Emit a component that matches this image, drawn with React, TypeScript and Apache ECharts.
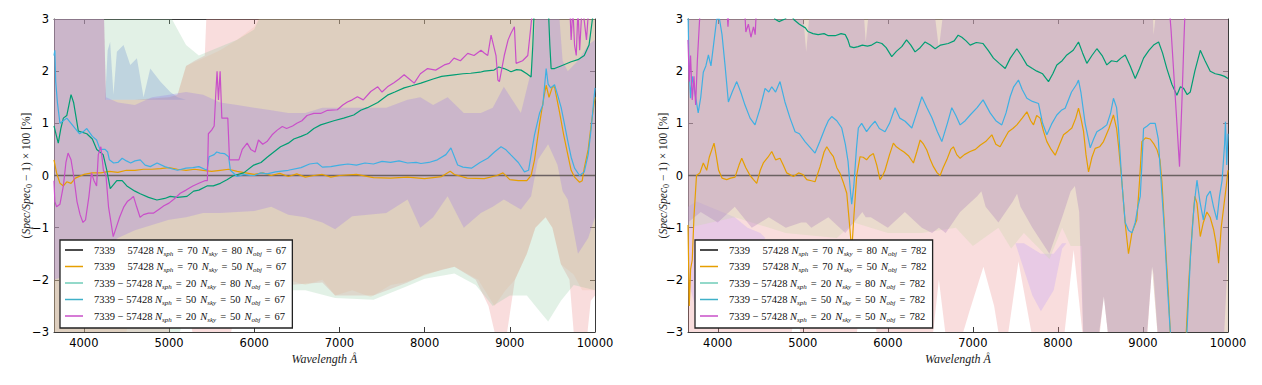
import React, { useEffect, useRef } from 'react';
import * as echarts from 'echarts';

// ---------- axes ----------
const X_MIN = 3650;
const X_MAX = 10000;
const X_TICKS = [4000, 5000, 6000, 7000, 8000, 9000, 10000];
const Y_MIN = -3;
const Y_MAX = 3;

// ---------- legend text ----------
const PAIR_LABELS = ['7339\u2003\u200957428', '7339\u2003\u200957428', '7339 \u2212 57428', '7339 \u2212 57428', '7339 \u2212 57428'];
const N_SPH = [70, 70, 20, 50, 20];
const N_SKY = [80, 50, 80, 50, 50];
const N_OBJ = [67, 782];
const LINE_COLORS = ['#111111', '#e69f00', '#009e73', '#3fb0e3', '#c94fc9'];
const LEGEND_COLORS = ['#111111', '#e69f00', '#6fcdb8', '#3fb0c8', '#c94fc9'];

// ---------- left panel (N_obj = 67) lines ----------
const ZERO_LINE = [[3650, 0], [10000, 0]];

const L_ORANGE = [[3650, 0.3], [3680, 0.05], [3720, -0.15], [3760, -0.2], [3800, -0.12], [3850, -0.15], [3900, -0.05], [4000, 0.02], [4100, 0.05], [4200, 0.05], [4300, 0.08], [4400, 0.06], [4500, 0.1], [4600, 0.1], [4700, 0.12], [4800, 0.12], [4900, 0.13], [5000, 0.15], [5100, 0.12], [5200, 0.1], [5300, 0.12], [5400, 0.1], [5500, 0.08], [5600, 0.1], [5700, 0.12], [5800, 0.08], [5900, 0.05], [6000, 0.02], [6100, 0.05], [6200, 0.0], [6300, 0.04], [6400, -0.02], [6500, 0.03], [6600, -0.03], [6700, 0.0], [6800, 0.02], [6900, -0.03], [7000, 0.0], [7200, 0.02], [7400, -0.04], [7600, -0.05], [7800, -0.03], [8000, -0.06], [8200, -0.02], [8300, 0.08], [8350, 0.02], [8500, -0.05], [8700, -0.06], [8850, 0.0], [8920, 0.05], [9000, -0.08], [9100, -0.1], [9200, -0.1], [9250, 0.0], [9290, 0.3], [9350, 1.0], [9400, 1.5], [9427, 1.73], [9460, 1.5], [9500, 1.7], [9525, 1.7], [9583, 1.22], [9630, 0.8], [9682, 0.39], [9720, 0.1], [9760, -0.03], [9819, -0.13], [9850, -0.1], [9874, 0.14], [9920, 0.5], [9955, 0.97], [10000, 1.5]];

const L_GREEN = [[3650, 0.95], [3680, 0.75], [3700, 0.62], [3730, 0.9], [3760, 1.1], [3800, 1.15], [3850, 1.55], [3880, 1.4], [3936, 0.85], [4035, 0.8], [4100, 0.7], [4152, 0.5], [4227, 0.4], [4270, 0.1], [4310, -0.25], [4387, -0.1], [4450, -0.1], [4505, -0.2], [4600, -0.3], [4662, -0.35], [4760, -0.42], [4858, -0.47], [4950, -0.44], [5015, -0.4], [5100, -0.42], [5211, -0.4], [5289, -0.3], [5350, -0.28], [5446, -0.2], [5520, -0.2], [5603, -0.15], [5680, -0.08], [5760, 0.0], [5877, 0.05], [5995, 0.2], [6080, 0.25], [6152, 0.35], [6230, 0.45], [6309, 0.55], [6400, 0.62], [6465, 0.7], [6550, 0.75], [6623, 0.8], [6700, 0.9], [6780, 0.97], [6935, 1.05], [7050, 1.1], [7168, 1.16], [7250, 1.25], [7329, 1.3], [7450, 1.4], [7564, 1.54], [7650, 1.6], [7760, 1.68], [7850, 1.72], [7956, 1.77], [8100, 1.85], [8200, 1.9], [8345, 1.93], [8450, 1.95], [8541, 1.96], [8650, 1.98], [8700, 2.0], [8815, 2.02], [8870, 2.08], [8933, 2.05], [9015, 1.99], [9080, 2.03], [9133, 2.02], [9200, 1.95], [9250, 1.89], [9270, 2.5], [9290, 3.3], [9450, 3.3], [9470, 2.5], [9485, 2.05], [9525, 2.05], [9600, 2.1], [9720, 2.18], [9800, 2.22], [9874, 2.3], [9930, 2.5], [9970, 3.0], [10000, 3.3]];

const L_BLUE = [[3650, 2.3], [3660, 2.4], [3670, 1.8], [3690, 1.4], [3720, 1.0], [3760, 1.05], [3800, 1.1], [3850, 1.0], [3900, 0.9], [3950, 0.8], [4000, 0.85], [4035, 0.9], [4100, 0.75], [4150, 0.68], [4190, 0.5], [4250, 0.5], [4280, 0.45], [4300, 0.3], [4350, 0.24], [4400, 0.25], [4450, 0.33], [4500, 0.28], [4550, 0.24], [4600, 0.28], [4662, 0.3], [4720, 0.2], [4780, 0.17], [4860, 0.24], [4950, 0.17], [5050, 0.12], [5100, 0.1], [5200, 0.14], [5280, 0.15], [5350, 0.17], [5446, 0.1], [5470, 0.36], [5530, 0.4], [5560, 0.45], [5600, 0.43], [5650, 0.42], [5700, 0.36], [5720, 0.1], [5800, -0.02], [5880, 0.02], [5950, 0.0], [6000, 0.0], [6080, 0.05], [6150, 0.03], [6250, 0.07], [6400, 0.1], [6550, 0.15], [6650, 0.22], [6740, 0.24], [6800, 0.16], [6900, 0.17], [7000, 0.2], [7100, 0.22], [7200, 0.2], [7300, 0.24], [7400, 0.22], [7500, 0.27], [7600, 0.25], [7700, 0.28], [7800, 0.24], [7900, 0.25], [7956, 0.23], [8050, 0.25], [8150, 0.3], [8250, 0.4], [8309, 0.53], [8388, 0.2], [8450, 0.16], [8550, 0.14], [8650, 0.25], [8741, 0.33], [8820, 0.45], [8897, 0.55], [8950, 0.5], [9015, 0.39], [9100, 0.25], [9172, 0.07], [9220, 0.1], [9290, 0.78], [9350, 1.2], [9388, 1.35], [9427, 2.05], [9450, 1.75], [9480, 1.68], [9525, 1.74], [9560, 1.55], [9603, 1.3], [9640, 1.0], [9682, 0.65], [9720, 0.35], [9760, 0.14], [9819, 0.0], [9874, 0.07], [9920, 0.4], [9955, 0.9], [10000, 1.68]];

const L_MAGENTA = [[3650, -0.1], [3660, -0.5], [3680, -0.6], [3720, -0.55], [3760, -0.2], [3790, 0.25], [3815, 0.43], [3850, 0.3], [3880, 0.0], [3920, -0.5], [3956, -0.75], [3990, -0.9], [4020, -0.85], [4060, -0.4], [4090, 0.05], [4120, -0.1], [4150, -0.2], [4170, 0.4], [4200, 0.55], [4230, 0.1], [4260, 0.0], [4290, -0.6], [4345, -1.17], [4380, -1.0], [4420, -0.8], [4470, -0.6], [4510, -0.5], [4550, -0.45], [4583, -0.4], [4620, -0.6], [4660, -0.8], [4700, -0.75], [4760, -0.72], [4820, -0.72], [4880, -0.65], [4940, -0.58], [5000, -0.53], [5060, -0.45], [5132, -0.34], [5200, -0.28], [5280, -0.2], [5350, -0.15], [5420, -0.1], [5450, -0.1], [5462, 0.8], [5500, 0.87], [5530, 0.95], [5550, 1.6], [5564, 2.0], [5580, 1.45], [5600, 2.0], [5620, 1.1], [5650, 1.1], [5690, 1.1], [5710, 0.3], [5760, 0.3], [5820, 0.3], [5860, 0.5], [5917, 0.62], [5960, 0.5], [6010, 0.45], [6050, 0.68], [6100, 0.6], [6150, 0.65], [6210, 0.78], [6270, 0.87], [6330, 0.94], [6380, 0.9], [6450, 0.95], [6500, 1.0], [6560, 1.05], [6620, 1.15], [6700, 1.19], [6780, 1.19], [6860, 1.25], [6976, 1.26], [7040, 1.35], [7094, 1.41], [7150, 1.45], [7211, 1.51], [7280, 1.45], [7368, 1.61], [7450, 1.7], [7500, 1.6], [7564, 1.7], [7640, 1.78], [7700, 1.85], [7760, 1.93], [7820, 1.85], [7878, 1.77], [7950, 1.95], [8035, 2.05], [8130, 2.02], [8231, 2.12], [8290, 2.15], [8345, 2.25], [8420, 2.2], [8506, 2.34], [8580, 2.3], [8662, 2.4], [8700, 2.35], [8741, 2.3], [8780, 2.69], [8838, 2.3], [8860, 1.83], [8878, 1.8], [8935, 2.3], [8980, 2.6], [9015, 2.73], [9054, 2.85], [9074, 2.15], [9150, 2.2], [9211, 2.3], [9250, 2.9], [9280, 3.4], [9700, 3.4], [9720, 2.6], [9740, 3.2], [9760, 2.5], [9780, 2.3], [9800, 3.2], [9820, 2.4], [9850, 3.3], [9900, 2.6], [9930, 3.3], [10000, 3.4]];

// left panel uncertainty bands: [wavelength, lower, upper]
const L_BAND_PINK = [[3650, -3.2, 3.5], [4230, -3.2, 3.5], [4260, -3.2, 1.45], [4600, -3.2, 1.45], [5000, -3.0, 1.5], [5100, -2.6, 1.55], [5200, -2.4, 2.1], [5300, -3.2, 2.2], [5420, -3.2, 2.3], [5450, -3.2, 3.5], [5700, -3.2, 3.5], [5800, -2.5, 3.5], [6000, -2.2, 3.5], [6400, -2.1, 3.5], [6800, -2.05, 3.5], [6950, -2.3, 3.5], [7400, -2.3, 3.5], [7800, -2.05, 3.5], [8000, -1.9, 3.5], [8350, -1.75, 3.5], [8600, -2.0, 3.5], [8750, -2.5, 3.5], [8850, -3.2, 3.5], [8950, -3.2, 3.5], [9060, -2.0, 3.5], [9200, -1.5, 3.5], [9300, -1.0, 3.5], [9420, -0.8, 3.5], [9500, -1.0, 3.5], [9600, -1.7, 3.5], [9700, -2.0, 3.5], [9760, -3.2, 3.5], [9900, -3.2, 3.5], [9950, -2.4, 3.5], [10000, -2.3, 3.5]];
const L_BAND_GREEN = [[3650, -3.2, 3.5], [4900, -3.2, 3.5], [5000, -3.2, 3.1], [5100, -3.1, 2.8], [5200, -2.7, 2.5], [5350, -2.5, 2.3], [5500, -2.4, 2.4], [5800, -2.25, 2.6], [6000, -2.3, 2.8], [6200, -2.2, 3.5], [6600, -2.2, 3.5], [6950, -2.35, 3.5], [7400, -2.38, 3.5], [7800, -2.12, 3.5], [8000, -1.98, 3.5], [8350, -1.88, 3.5], [8600, -2.1, 3.5], [8800, -2.5, 3.5], [9000, -2.3, 3.5], [9200, -2.3, 3.5], [9350, -2.6, 3.5], [9450, -2.8, 3.5], [9600, -2.4, 3.5], [9750, -2.1, 3.5], [10000, -2.2, 3.5]];
const L_BAND_BLUE = [[4250, 1.45, 1.45], [4280, 1.45, 2.4], [4309, 1.45, 2.56], [4348, 1.45, 1.55], [4388, 1.45, 2.37], [4466, 1.45, 2.5], [4545, 1.45, 2.12], [4623, 1.45, 2.25], [4701, 1.45, 1.5], [4780, 1.45, 2.05], [4898, 1.45, 1.8], [5015, 1.45, 1.6], [5100, 1.45, 1.5], [5200, 1.45, 1.45]];
const L_BAND_TAN = [[3650, -3.2, 3.5], [4230, -3.2, 3.5], [4260, -3.2, 1.45], [4500, -3.0, 1.45], [4600, -2.2, 1.45], [5000, -2.1, 1.5], [5100, -2.15, 1.55], [5200, -2.2, 2.1], [5400, -2.2, 2.25], [5600, -2.25, 2.4], [5800, -2.2, 2.6], [6000, -2.1, 2.85], [6200, -2.1, 3.5], [6400, -2.0, 3.5], [6600, -2.1, 3.5], [6800, -2.0, 3.5], [6950, -2.3, 3.5], [7150, -2.2, 3.5], [7370, -2.33, 3.5], [7600, -2.1, 3.5], [7760, -2.05, 3.5], [8040, -1.9, 3.5], [8200, -1.8, 3.5], [8350, -1.75, 3.5], [8630, -2.0, 3.5], [8820, -2.5, 3.5], [8950, -2.2, 3.5], [9060, -2.0, 3.5], [9200, -1.5, 3.5], [9300, -1.0, 3.5], [9420, -0.8, 3.5], [9500, -1.0, 3.5], [9600, -1.7, 3.5], [9750, -1.9, 3.5], [9850, -2.2, 3.5], [10000, -2.2, 3.5]];
const L_BAND_PURPLE = [[3650, -2.0, 3.5], [4000, -1.8, 3.5], [4230, -1.5, 3.5], [4260, -1.4, 1.5], [4400, -1.2, 1.4], [4600, -1.05, 1.35], [4800, -0.95, 1.5], [5000, -0.85, 1.55], [5200, -0.8, 1.6], [5400, -0.72, 1.55], [5600, -0.72, 1.4], [5800, -0.7, 1.35], [6000, -0.68, 1.3], [6200, -0.6, 1.25], [6400, -0.75, 1.2], [6600, -0.8, 1.2], [6800, -0.9, 1.3], [6950, -1.03, 1.3], [7150, -0.78, 1.3], [7550, -0.72, 1.3], [7800, -0.46, 1.45], [7950, -1.0, 1.5], [8100, -0.8, 1.35], [8270, -0.4, 1.5], [8460, -1.0, 1.2], [8660, -0.72, 1.2], [8800, -0.6, 1.3], [8930, -0.46, 1.7], [9130, -0.65, 1.2], [9250, -0.4, 2.0], [9330, 0.3, 3.5], [9450, 0.6, 3.5], [9560, 0.2, 3.5], [9620, -0.3, 2.2], [9680, -0.46, 2.0], [9800, -1.5, 2.2], [9920, -1.2, 2.5], [10000, -0.8, 2.6]];

// ---------- right panel (N_obj = 782) lines ----------
const R_ORANGE = [[3650, -0.95], [3665, -2.5], [3680, -1.8], [3700, -1.62], [3720, -0.8], [3750, 0.0], [3790, 0.05], [3830, 0.24], [3870, 0.1], [3900, 0.35], [3956, 0.62], [3980, 0.4], [4010, 0.1], [4050, -0.05], [4105, -0.08], [4150, -0.05], [4203, -0.03], [4250, 0.2], [4282, 0.33], [4330, 0.15], [4380, 0.0], [4420, -0.08], [4458, -0.15], [4500, 0.1], [4536, 0.24], [4590, 0.35], [4635, 0.46], [4680, 0.3], [4732, 0.33], [4770, 0.2], [4811, 0.05], [4889, -0.02], [4950, 0.05], [5000, 0.02], [5046, -0.08], [5100, -0.1], [5144, -0.12], [5203, 0.17], [5250, 0.45], [5282, 0.55], [5320, 0.45], [5360, 0.36], [5400, 0.15], [5438, 0.04], [5480, -0.15], [5517, -0.34], [5555, -1.04], [5575, -1.45], [5600, -0.8], [5634, 0.0], [5673, 0.36], [5710, 0.35], [5750, 0.3], [5790, 0.38], [5830, 0.42], [5870, 0.2], [5908, -0.08], [5940, 0.0], [5967, 0.1], [6020, 0.4], [6065, 0.62], [6100, 0.55], [6144, 0.5], [6190, 0.45], [6242, 0.38], [6301, 0.24], [6340, 0.45], [6380, 0.68], [6420, 0.6], [6458, 0.49], [6500, 0.3], [6536, 0.17], [6580, 0.05], [6615, 0.0], [6650, 0.15], [6693, 0.3], [6740, 0.5], [6771, 0.55], [6810, 0.4], [6850, 0.33], [6900, 0.4], [6968, 0.46], [7030, 0.5], [7085, 0.58], [7150, 0.65], [7223, 0.78], [7270, 0.6], [7320, 0.55], [7370, 0.7], [7418, 0.84], [7470, 0.9], [7517, 0.97], [7580, 1.1], [7635, 1.22], [7680, 1.05], [7713, 0.97], [7750, 1.15], [7791, 1.1], [7830, 0.85], [7870, 0.65], [7920, 0.5], [7968, 0.39], [8020, 0.6], [8066, 0.78], [8120, 0.85], [8164, 0.91], [8210, 1.1], [8242, 1.29], [8270, 1.1], [8301, 0.85], [8330, 0.4], [8360, 0.07], [8400, 0.35], [8438, 0.52], [8490, 0.55], [8536, 0.65], [8600, 0.9], [8653, 1.16], [8690, 0.9], [8712, 0.58], [8752, -0.12], [8790, -0.9], [8830, -1.5], [8870, -1.1], [8928, -0.85], [8960, -0.1], [8987, 0.65], [9030, 0.72], [9085, 0.7], [9130, 0.6], [9164, 0.5], [9200, 0.3], [9223, -0.12], [9260, -1.2], [9300, -2.3], [9330, -3.3], [9500, -3.3], [9540, -2.0], [9580, -1.0], [9610, -0.4], [9635, -0.53], [9674, -1.17], [9710, -0.9], [9752, -0.7], [9790, -0.8], [9830, -1.03], [9860, -1.3], [9890, -1.68], [9920, -1.0], [9950, -0.6], [9980, -0.2], [10000, 0.1]];

const R_GREEN = [[3650, 3.3], [4650, 3.3], [4670, 3.0], [4720, 2.95], [4790, 3.0], [4850, 3.1], [4900, 2.98], [4960, 2.9], [5030, 2.83], [5060, 2.76], [5120, 2.72], [5180, 2.7], [5250, 2.72], [5300, 2.68], [5380, 2.68], [5450, 2.72], [5500, 2.7], [5530, 2.6], [5555, 2.47], [5600, 2.45], [5650, 2.47], [5700, 2.5], [5760, 2.48], [5810, 2.5], [5870, 2.56], [5930, 2.53], [5980, 2.45], [6046, 2.28], [6100, 2.38], [6164, 2.47], [6220, 2.6], [6270, 2.5], [6320, 2.37], [6380, 2.45], [6438, 2.56], [6500, 2.5], [6556, 2.43], [6620, 2.5], [6710, 2.53], [6780, 2.58], [6827, 2.69], [6870, 2.65], [6920, 2.58], [6968, 2.5], [7040, 2.55], [7120, 2.53], [7180, 2.4], [7242, 2.25], [7310, 2.15], [7380, 2.05], [7440, 2.25], [7517, 2.43], [7570, 2.3], [7635, 2.12], [7700, 2.05], [7752, 2.0], [7820, 1.95], [7889, 1.8], [7940, 1.95], [7987, 2.12], [8050, 2.2], [8105, 2.31], [8180, 2.4], [8242, 2.56], [8290, 2.35], [8340, 2.15], [8400, 2.3], [8458, 2.43], [8520, 2.3], [8575, 2.12], [8630, 2.2], [8693, 2.18], [8740, 2.25], [8791, 2.31], [8850, 2.1], [8909, 1.86], [8960, 2.05], [9007, 2.25], [9070, 2.4], [9125, 2.5], [9184, 2.56], [9230, 2.35], [9281, 2.05], [9340, 1.75], [9399, 1.54], [9440, 1.7], [9478, 1.67], [9520, 1.55], [9556, 1.6], [9610, 2.0], [9674, 2.4], [9730, 2.2], [9791, 2.0], [9850, 1.95], [9909, 1.93], [9960, 1.9], [10000, 1.86]];

const R_BLUE = [[3650, 3.2], [3660, 2.2], [3680, 1.48], [3700, 1.9], [3730, 1.6], [3770, 1.2], [3800, 1.5], [3830, 1.98], [3860, 2.1], [3890, 2.31], [3920, 2.1], [3950, 2.5], [3988, 3.0], [4020, 3.0], [4050, 2.7], [4085, 2.12], [4125, 1.41], [4170, 1.6], [4223, 1.8], [4270, 1.6], [4320, 1.35], [4380, 1.1], [4438, 0.97], [4500, 1.3], [4556, 1.67], [4600, 1.6], [4635, 1.7], [4680, 1.6], [4732, 1.8], [4790, 1.41], [4850, 1.1], [4909, 0.84], [4960, 0.8], [5026, 0.65], [5080, 0.55], [5144, 0.43], [5200, 0.65], [5262, 0.91], [5300, 1.05], [5340, 1.13], [5400, 1.05], [5458, 0.91], [5500, 0.6], [5532, 0.27], [5560, -0.3], [5575, -0.55], [5600, -0.2], [5630, 0.5], [5653, 0.91], [5692, 1.0], [5750, 0.84], [5800, 0.95], [5850, 1.04], [5900, 0.9], [5967, 0.84], [6020, 1.0], [6085, 1.3], [6140, 1.1], [6203, 1.04], [6282, 0.91], [6340, 1.2], [6400, 1.51], [6460, 1.3], [6517, 1.11], [6580, 0.85], [6635, 0.65], [6700, 1.0], [6752, 1.3], [6800, 1.15], [6850, 0.97], [6910, 1.05], [6968, 1.16], [7050, 1.3], [7120, 1.45], [7203, 1.2], [7270, 1.05], [7340, 0.97], [7390, 1.2], [7438, 1.51], [7480, 1.7], [7536, 1.83], [7580, 1.65], [7635, 1.48], [7700, 1.42], [7772, 1.38], [7820, 1.0], [7870, 0.78], [7930, 1.0], [7987, 1.16], [8040, 1.25], [8085, 1.29], [8160, 1.6], [8220, 1.75], [8242, 1.83], [8270, 1.6], [8320, 1.0], [8380, 0.53], [8420, 0.7], [8458, 0.84], [8520, 0.9], [8575, 0.97], [8620, 1.2], [8653, 1.48], [8690, 1.3], [8712, 0.9], [8752, -0.12], [8791, -0.9], [8830, -1.05], [8870, -1.1], [8909, -0.9], [8940, -0.6], [8968, -0.4], [8990, 0.3], [9007, 0.9], [9050, 0.95], [9085, 1.0], [9144, 1.0], [9180, 0.7], [9203, 0.13], [9250, -1.0], [9290, -2.2], [9320, -2.96], [9340, -3.3], [9500, -3.3], [9517, -3.0], [9560, -1.5], [9600, -0.6], [9635, -0.09], [9670, -0.5], [9710, -0.85], [9750, -0.4], [9791, -0.3], [9830, -0.6], [9870, -0.85], [9900, -0.4], [9930, -0.1], [9960, 0.6], [9970, 1.03], [9985, 0.2], [10000, 0.8]];

const R_MAGENTA = [[3650, 2.6], [3665, 1.8], [3680, 2.3], [3700, 1.45], [3720, 1.9], [3740, 1.35], [3760, 2.2], [3780, 2.8], [3800, 3.4], [4100, 3.4], [4120, 2.85], [4140, 3.4], [4310, 3.4], [4330, 2.75], [4360, 2.9], [4390, 2.65], [4420, 2.85], [4440, 2.7], [4460, 3.4], [9300, 3.4], [9330, 2.8], [9380, 1.5], [9430, 0.17], [9460, 1.5], [9480, 2.5], [9500, 3.4], [10000, 3.4]];

// right panel uncertainty bands: [wavelength, lower, upper]
const R_BAND_PINK = [[3650, -3.2, 3.5], [4850, -3.2, 3.5], [4920, -2.5, 3.5], [4990, -3.2, 3.5], [5620, -3.2, 3.5], [5680, -2.5, 3.5], [5780, -1.7, 3.5], [5880, -3.2, 3.5], [6520, -3.2, 3.5], [6600, -2.0, 3.5], [6690, -3.2, 3.5], [6850, -3.2, 3.5], [6960, -2.6, 3.5], [7124, -1.75, 3.5], [7250, -2.5, 3.5], [7320, -3.2, 3.5], [7400, -3.2, 3.5], [7536, -1.65, 3.5], [7710, -3.2, 3.5], [8065, -3.2, 3.5], [8185, -1.43, 3.5], [8300, -3.2, 3.5], [8480, -3.2, 3.5], [8540, -2.32, 3.5], [8600, -3.2, 3.5], [9045, -3.2, 3.5], [9107, -1.75, 3.5], [9180, -3.2, 3.5], [10000, -3.2, 3.5]];
const R_BAND_LILAC_BLUE = [[3650, -2.0, -0.6], [3750, -2.6, -0.5], [3900, -2.0, -0.6], [4050, -2.4, -0.7], [4200, -2.7, -0.8], [4350, -2.0, -1.0], [4500, -1.3, -1.1], [4560, -1.2, -1.2]];
const R_BAND_LILAC_RED = [[7500, -1.3, -1.3], [7600, -1.8, -1.3], [7700, -2.3, -1.4], [7800, -2.6, -1.5], [7950, -2.2, -1.5], [8050, -1.4, -1.3], [8100, -1.3, -1.3]];
const R_BAND_BEIGE = [[3650, -1.0, 3.5], [4200, -0.8, 3.5], [4800, -1.1, 3.5], [5400, -1.2, 3.5], [5600, -0.9, 3.5], [6000, -1.1, 3.5], [6400, -1.1, 3.5], [6800, -1.0, 3.5], [7000, -1.35, 3.5], [7300, -1.0, 3.5], [7450, -1.4, 3.5], [7600, -1.1, 3.5], [7900, -1.6, 3.5], [8050, -1.0, 3.5], [8150, -1.35, 3.5], [8280, -1.35, 3.5], [8300, -3.2, 3.5], [8470, -3.2, 3.5], [8540, -2.32, 3.5], [8600, -3.2, 3.5], [9040, -3.2, 3.5], [9107, -1.75, 3.5], [9180, -3.2, 3.5], [10000, -3.2, 3.5]];
const R_BAND_PURPLE = [[3650, -0.9, 3.5], [3800, -0.7, 3.5], [4000, -0.9, 3.5], [4200, -0.6, 3.5], [4400, -1.0, 3.5], [4600, -0.8, 3.5], [4800, -1.0, 3.5], [4980, -0.9, 3.5], [5040, -0.9, 2.37], [5100, -1.0, 3.5], [5300, -0.8, 3.5], [5500, -1.1, 3.5], [5700, -0.7, 3.5], [5740, -0.8, 2.56], [5800, -0.8, 3.5], [6000, -1.0, 3.5], [6200, -0.7, 3.5], [6400, -1.0, 3.5], [6520, -1.1, 3.5], [6600, -1.0, 2.44], [6680, -1.1, 3.5], [6850, -0.7, 3.5], [7050, -0.4, 3.5], [7100, -0.3, 3.5], [7150, -0.6, 3.5], [7300, -0.9, 3.5], [7470, -0.5, 3.5], [7520, -0.35, 3.5], [7560, -0.6, 3.5], [7700, -1.0, 3.5], [7900, -1.5, 3.5], [8050, -0.8, 3.5], [8150, -0.3, 3.5], [8200, -0.2, 3.5], [8250, -0.7, 3.5], [8300, -3.2, 3.5], [8470, -3.2, 3.5], [8540, -2.32, 3.5], [8600, -3.2, 3.5], [9040, -3.2, 3.5], [9107, -1.75, 3.5], [9125, -1.9, 2.7], [9180, -3.2, 3.5], [9950, -3.2, 3.5], [10000, -1.5, 3.5]];

const FRAME = '#3a3a3a';
const SERIF = 'Liberation Serif';
const SANS = 'DejaVu Sans';

const PANELS = [
  {
    lines: [ZERO_LINE, L_ORANGE, L_GREEN, L_BLUE, L_MAGENTA],
    bands: [
      { data: L_BAND_PINK, color: 'rgba(236,144,144,0.3)' },
      { data: L_BAND_GREEN, color: 'rgba(138,198,155,0.25)' },
      { data: L_BAND_BLUE, color: 'rgba(127,159,208,0.35)' },
      { data: L_BAND_TAN, color: 'rgba(232,160,96,0.12)' },
      { data: L_BAND_PURPLE, color: 'rgba(159,126,230,0.3)' },
    ],
  },
  {
    lines: [ZERO_LINE, R_ORANGE, R_GREEN, R_BLUE, R_MAGENTA],
    bands: [
      { data: R_BAND_PINK, color: 'rgba(236,144,144,0.3)' },
      { data: R_BAND_LILAC_BLUE, color: 'rgba(192,160,248,0.3)' },
      { data: R_BAND_LILAC_RED, color: 'rgba(192,160,248,0.3)' },
      { data: R_BAND_BEIGE, color: 'rgba(200,216,168,0.3)' },
      { data: R_BAND_PURPLE, color: 'rgba(164,120,186,0.3)' },
    ],
  },
];

const seriesName = (p: number, i: number) =>
  `${PAIR_LABELS[i]} N_sph=${N_SPH[i]} N_sky=${N_SKY[i]} N_obj=${N_OBJ[p]}`;

function legendRich(p: number, i: number) {
  return `{p|${PAIR_LABELS[i]} }{i|N}{s|sph}{e|=}{t|${N_SPH[i]}}{i|N}{s|sky}{e|=}{t|${N_SKY[i]}}{i|N}{s|obj}{e|=}{t|${N_OBJ[p]}}`;
}

function bandSeries(band: number[][], color: string, gi: number) {
  return {
    type: 'custom',
    xAxisIndex: gi * 2,
    yAxisIndex: gi * 2,
    clip: true,
    silent: true,
    z: 1,
    data: band,
    encode: { x: 0, y: [1, 2] },
    renderItem: (params: any, api: any) => {
      if (params.dataIndex !== 0) return null;
      const upper = band.map((d) => api.coord([d[0], d[2]]));
      const lower = band.map((d) => api.coord([d[0], d[1]])).reverse();
      return {
        type: 'polygon',
        shape: { points: upper.concat(lower) },
        style: { fill: color, stroke: 'none' },
      };
    },
  };
}

function buildOption() {
  const nameInfo: Record<string, [number, number]> = {};
  const grids: any[] = [];
  const xAxes: any[] = [];
  const yAxes: any[] = [];
  const series: any[] = [];
  const legends: any[] = [];
  const gridLefts = [54, 688];
  const gridWidths = [541, 540];
  const legendLefts = [60, 695];
  const yNameGaps = [21, 18];

  PANELS.forEach((panel, p) => {
    grids.push({ left: gridLefts[p], top: 19, width: gridWidths[p], height: 313, outerBoundsMode: 'none', containLabel: false });
    xAxes.push({
      type: 'value', gridIndex: p, min: X_MIN, max: X_MAX, position: 'bottom',
      axisLine: { show: true, onZero: false, lineStyle: { color: FRAME, width: 1 } },
      axisTick: { show: true, inside: true, length: 5, customValues: X_TICKS, lineStyle: { color: FRAME } },
      axisLabel: {
        show: true, customValues: X_TICKS, margin: 5, fontFamily: SANS, fontSize: 11.5, color: '#000',
        formatter: (v: number) => String(v),
      },
      splitLine: { show: false },
      name: 'Wavelength \u00c5', nameLocation: 'middle', nameGap: 21, nameMoveOverlap: false,
      nameTextStyle: { fontFamily: SERIF, fontStyle: 'italic', fontSize: 12, color: '#222' },
    });
    xAxes.push({
      type: 'value', gridIndex: p, min: X_MIN, max: X_MAX, position: 'top',
      axisLine: { show: true, onZero: false, lineStyle: { color: FRAME, width: 1 } },
      axisTick: { show: true, inside: true, length: 5, customValues: X_TICKS, lineStyle: { color: FRAME } },
      axisLabel: { show: false },
      splitLine: { show: false },
    });
    yAxes.push({
      type: 'value', gridIndex: p, min: Y_MIN, max: Y_MAX, interval: 1, position: 'left',
      axisLine: { show: true, onZero: false, lineStyle: { color: FRAME, width: 1 } },
      axisTick: { show: true, inside: true, length: 5, lineStyle: { color: FRAME } },
      axisLabel: {
        show: true, margin: 5, fontFamily: SANS, fontSize: 11.5, color: '#000',
        formatter: (v: number) => (v < 0 ? '\u2212' + String(-v) : String(v)),
      },
      splitLine: { show: false },
      name: '{n|(}{a|Spec/Spec}{b|0}{n| \u2212 1) \u00d7 100 [%]}',
      nameLocation: 'middle', nameGap: yNameGaps[p], nameMoveOverlap: false,
      nameTextStyle: {
        rich: {
          n: { fontFamily: SERIF, fontSize: 11.5, color: '#222', lineHeight: 14 },
          a: { fontFamily: SERIF, fontStyle: 'italic', fontSize: 11.5, color: '#222', lineHeight: 14 },
          b: { fontFamily: SERIF, fontSize: 8, color: '#222', lineHeight: 8, verticalAlign: 'bottom' },
        },
      },
    });
    yAxes.push({
      type: 'value', gridIndex: p, min: Y_MIN, max: Y_MAX, interval: 1, position: 'right',
      axisLine: { show: true, onZero: false, lineStyle: { color: FRAME, width: 1 } },
      axisTick: { show: true, inside: true, length: 5, lineStyle: { color: FRAME } },
      axisLabel: { show: false },
      splitLine: { show: false },
    });

    panel.bands.forEach((b) => series.push(bandSeries(b.data, b.color, p)));

    const names: any[] = [];
    panel.lines.forEach((line, i) => {
      const name = seriesName(p, i);
      nameInfo[name] = [p, i];
      const isZero = i === 0;
      series.push({
        type: 'line', name, xAxisIndex: p * 2, yAxisIndex: p * 2,
        data: line, showSymbol: false, symbol: 'none', silent: true,
        z: isZero ? 2 : 3,
        lineStyle: { color: isZero ? '#6b6262' : LINE_COLORS[i], width: isZero ? 1.5 : 1.2 },
        itemStyle: { color: LINE_COLORS[i] },
        emphasis: { disabled: true },
      });
      names.push({ name, icon: 'rect', itemStyle: { color: LEGEND_COLORS[i] } });
    });

    const base = { fontFamily: SERIF, fontSize: 10.5, color: '#111', lineHeight: 14 };
    legends.push({
      show: true, orient: 'vertical', left: legendLefts[p], top: 240,
      padding: [3, 2, 5, 5], itemGap: 2.5, itemWidth: 18, itemHeight: 1.5,
      icon: 'rect',
      backgroundColor: '#ffffff', borderColor: '#222', borderWidth: 1.3, borderRadius: 0,
      selectedMode: false, data: names, z: 10,
      formatter: (name: string) => {
        const info = nameInfo[name];
        return info ? legendRich(info[0], info[1]) : name;
      },
      textStyle: {
        ...base,
        rich: {
          p: { ...base, padding: [0, 0, 0, 6] },
          t: { ...base, padding: [0, 4, 0, 0] },
          e: { ...base, padding: [0, 4, 0, 4] },
          i: { ...base, fontStyle: 'italic' },
          s: { fontFamily: SERIF, fontStyle: 'italic', fontSize: 7, color: '#111', lineHeight: 8, verticalAlign: 'bottom' },
        },
      },
    });
  });

  return {
    animation: false,
    backgroundColor: '#ffffff',
    grid: grids,
    xAxis: xAxes,
    yAxis: yAxes,
    legend: legends,
    series,
  };
}

export default function App() {
  const ref = useRef<HTMLDivElement>(null);
  useEffect(() => {
    if (!ref.current) return;
    const chart = echarts.init(ref.current, null, { renderer: 'svg' });
    chart.setOption(buildOption() as any);
    return () => chart.dispose();
  }, []);
  return <div ref={ref} style={{ position: 'absolute', left: 0, top: 0, width: 1262, height: 385 }} />;
}
